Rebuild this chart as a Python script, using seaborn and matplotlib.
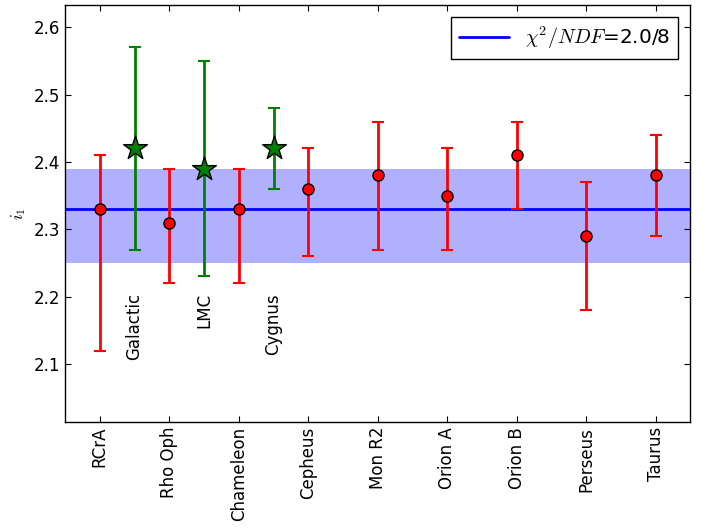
import matplotlib
matplotlib.use("Agg")
import matplotlib.pyplot as plt
import seaborn as sns
import numpy as np
import pandas as pd

# Data
regions = ["RCrA", "Rho Oph", "Chameleon", "Cepheus", "Mon R2", "Orion A", "Orion B", "Perseus", "Taurus"]
reg_val = [2.33, 2.31, 2.33, 2.36, 2.38, 2.35, 2.41, 2.29, 2.38]
reg_lo = [2.12, 2.22, 2.22, 2.26, 2.27, 2.27, 2.33, 2.18, 2.29]
reg_hi = [2.41, 2.39, 2.39, 2.42, 2.46, 2.42, 2.46, 2.37, 2.44]

other_names = ["Galactic", "LMC", "Cygnus"]
other_pos = [0.5, 1.5, 2.5]
other_val = [2.42, 2.39, 2.42]
other_lo = [2.27, 2.23, 2.36]
other_hi = [2.57, 2.55, 2.48]

fit_val = 2.33
fit_lo = 2.25
fit_hi = 2.39
legend_label = r"$\chi^2/NDF$=2.0/8"

sns.set_style("ticks")
plt.rcParams.update({
    "font.family": ["DejaVu Sans"],
    "mathtext.fontset": "cm",
    "text.color": "black",
    "axes.labelcolor": "black",
    "xtick.color": "black",
    "ytick.color": "black",
    "xtick.direction": "in",
    "ytick.direction": "in",
    "xtick.top": True,
    "ytick.right": True,
    "xtick.major.size": 4,
    "ytick.major.size": 4,
    "axes.edgecolor": "black",
    "axes.linewidth": 1.0,
    "xtick.labelsize": 12,
    "ytick.labelsize": 12,
})

fig = plt.figure(figsize=(7.08, 5.28), dpi=100)
ax = fig.add_axes([0.092, 0.2008, 0.883, 0.7897])

x = np.arange(len(regions))
ax.axhspan(fit_lo, fit_hi, color=(0.69, 0.69, 1.0), lw=0, zorder=0)
ax.axhline(fit_val, color="blue", lw=2, label=legend_label, zorder=1)

vals = np.array(reg_val)
ax.errorbar(x, vals, yerr=[vals - np.array(reg_lo), np.array(reg_hi) - vals],
            fmt="none", ecolor="red", elinewidth=2, capsize=4, capthick=1.5, zorder=2)
ov = np.array(other_val)
ax.errorbar(other_pos, ov, yerr=[ov - np.array(other_lo), np.array(other_hi) - ov],
            fmt="none", ecolor="green", elinewidth=2, capsize=4, capthick=1.5, zorder=2)

df_r = pd.DataFrame({"x": x, "y": reg_val})
df_o = pd.DataFrame({"x": other_pos, "y": other_val})
sns.scatterplot(data=df_r, x="x", y="y", ax=ax, color="red", edgecolor="black",
                s=64, linewidth=1, zorder=3, legend=False)
sns.scatterplot(data=df_o, x="x", y="y", ax=ax, color="green", edgecolor="black",
                marker="*", s=320, linewidth=1, zorder=3, legend=False)

for p, n in zip(other_pos, other_names):
    ax.text(p, 2.205, n, rotation=90, ha="center", va="top", fontsize=12, color="black")

ax.set_xlim(-0.5, 8.5)
ax.set_ylim(2.014, 2.633)
ax.set_xticks(x)
ax.set_xticklabels(regions, rotation=90)
ax.set_yticks([2.1, 2.2, 2.3, 2.4, 2.5, 2.6])
ax.set_xlabel("")
ax.set_ylabel(r"$i_1$", fontsize=12)

leg = ax.legend(loc="upper right", fontsize=14.4, fancybox=False, frameon=True,
                handlelength=2.5, borderaxespad=0.6)
leg.get_frame().set_edgecolor("black")
leg.get_frame().set_linewidth(1.0)
leg.get_frame().set_alpha(1)

fig.savefig("out.png", dpi=100, facecolor="white")
